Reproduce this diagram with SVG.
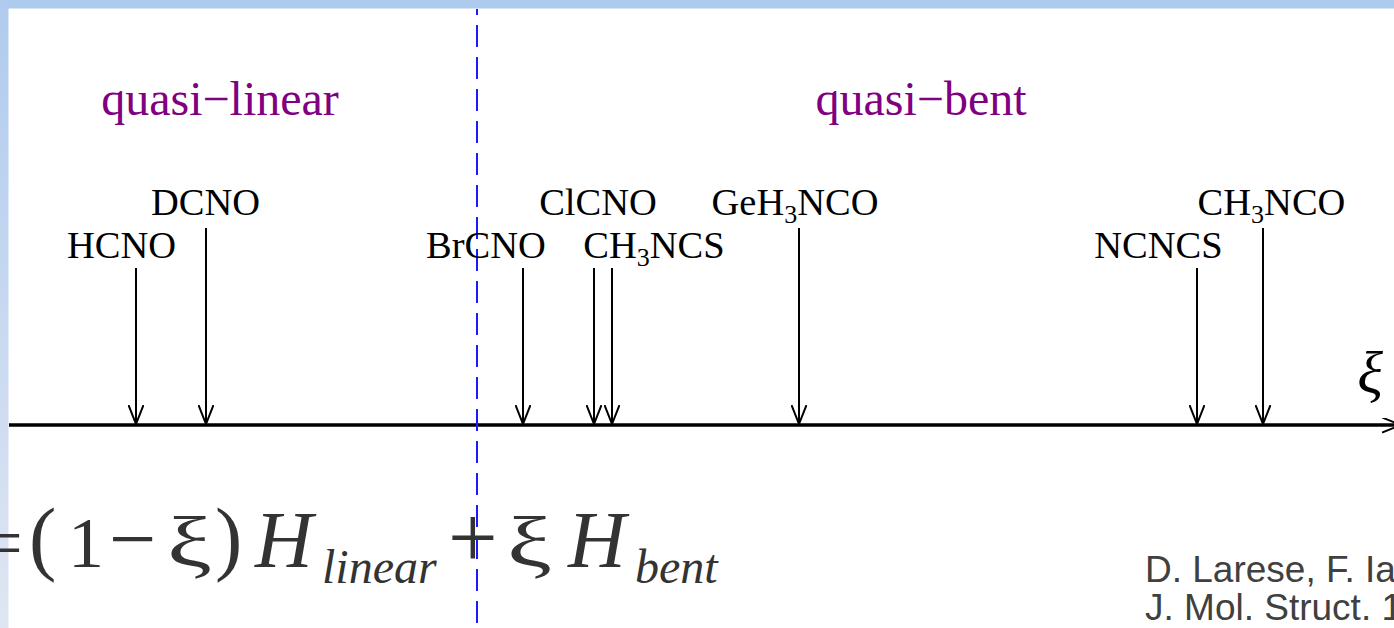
<svg xmlns="http://www.w3.org/2000/svg" width="1394" height="628" viewBox="0 0 1394 628">
<defs>
<linearGradient id="lb" x1="0" y1="0" x2="0" y2="1">
<stop offset="0" stop-color="#b0cbee"/>
<stop offset="1" stop-color="#dfe6f3"/>
</linearGradient>
<marker id="v" viewBox="0 0 20 16" refX="19" refY="7.5" markerWidth="20" markerHeight="16" markerUnits="userSpaceOnUse" orient="auto">
<path d="M0,0 L19,7.5 L0,15" fill="none" stroke="#000" stroke-width="2"/>
</marker>
<style>
.lab{font-family:"Liberation Serif",serif;font-size:38.5px;fill:#000;text-anchor:middle}
.sub{font-size:26px}
.reg{font-family:"Liberation Serif",serif;font-size:48px;fill:#800080;text-anchor:middle}
.eq{font-family:"Liberation Serif","Times New Roman",serif;fill:#333}
.it{font-style:italic}
.ref{font-family:"Liberation Sans",Arial,sans-serif;font-size:37px;fill:#404040}
.arr{stroke:#000;stroke-width:2;fill:none;marker-end:url(#v)}
</style>
</defs>
<rect x="0" y="0" width="1394" height="628" fill="#fff"/>
<rect x="0" y="0" width="1394" height="8.5" fill="#aecbee"/>
<rect x="0" y="0" width="8.5" height="628" fill="url(#lb)"/>

<g id="axis">
<line x1="9" y1="425" x2="1401" y2="425" stroke="#000" stroke-width="3.5" marker-end="url(#v)"/>
<text class="eq it" x="1370" y="393" font-size="60" text-anchor="middle" style="fill:#000">ξ</text>
</g>

<g id="divider">
<line x1="477" y1="9" x2="477" y2="628" stroke="#1a1aff" stroke-width="2" stroke-dasharray="22 10" stroke-dashoffset="16"/>
</g>

<g id="regions">
<text id="quasi-linear" class="reg" x="220" y="115">quasi−linear</text>
<text id="quasi-bent" class="reg" x="921" y="115">quasi−bent</text>
</g>

<g id="connectors">
<line class="arr" x1="136" y1="268" x2="136" y2="424"/>
<line class="arr" x1="206" y1="228" x2="206" y2="424"/>
<line class="arr" x1="523" y1="268" x2="523" y2="424"/>
<line class="arr" x1="594" y1="268" x2="594" y2="424"/>
<line class="arr" x1="612" y1="268" x2="612" y2="424"/>
<line class="arr" x1="799" y1="228" x2="799" y2="424"/>
<line class="arr" x1="1197" y1="268" x2="1197" y2="424"/>
<line class="arr" x1="1263" y1="228" x2="1263" y2="424"/>
</g>

<g id="HCNO"><text class="lab" x="121.5" y="258">HCNO</text></g>
<g id="DCNO"><text class="lab" x="205.5" y="215">DCNO</text></g>
<g id="BrCNO"><text class="lab" x="486" y="258">BrCNO</text></g>
<g id="ClCNO"><text class="lab" x="598" y="215">ClCNO</text></g>
<g id="CH3NCS"><text class="lab" x="654" y="258">CH<tspan class="sub" dy="8">3</tspan><tspan dy="-8">NCS</tspan></text></g>
<g id="GeH3NCO"><text class="lab" x="795" y="215">GeH<tspan class="sub" dy="8">3</tspan><tspan dy="-8">NCO</tspan></text></g>
<g id="NCNCS"><text class="lab" x="1158.5" y="258">NCNCS</text></g>
<g id="CH3NCO"><text class="lab" x="1271.5" y="215">CH<tspan class="sub" dy="8">3</tspan><tspan dy="-8">NCO</tspan></text></g>

<g id="equation">
<text class="eq" x="-18" y="567" font-size="72">=</text>
<text class="eq" x="29" y="565" font-size="82">(</text>
<text class="eq" x="68" y="567" font-size="72">1</text>
<text class="eq" x="109" y="567" font-size="84">−</text>
<text class="eq" transform="translate(167,567) scale(1.4,1)" font-size="72">ξ</text>
<text class="eq" x="215" y="565" font-size="82">)</text>
<text class="eq it" x="255" y="567" font-size="80">H</text>
<text class="eq it" x="322" y="583" font-size="48">linear</text>
<text class="eq" x="448" y="567" font-size="88">+</text>
<text class="eq" transform="translate(507,567) scale(1.4,1)" font-size="72">ξ</text>
<text class="eq it" x="568" y="567" font-size="80">H</text>
<text class="eq it" x="635" y="583" font-size="48">bent</text>
</g>

<g id="reference">
<text class="ref" x="1145" y="582">D. Larese, F. Ia</text>
<text class="ref" x="1145" y="620">J. Mol. Struct. 1</text>
</g>
</svg>
